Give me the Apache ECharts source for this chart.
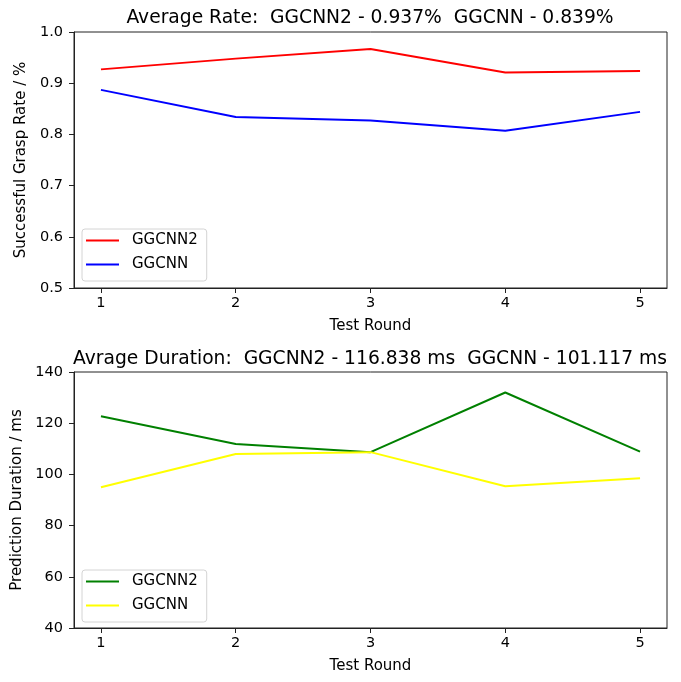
<!DOCTYPE html>
<html>
<head>
<meta charset="utf-8">
<script src="https://cdn.jsdelivr.net/npm/echarts@6/dist/echarts.min.js"></script>
<style>
  html, body { margin: 0; padding: 0; background: #fff; }
  #chart { width: 681px; height: 682px; }
</style>
</head>
<body>
<div id="chart"></div>
<script>
// test rounds on the x axis
const rounds = [1, 2, 3, 4, 5]

// successful grasp rate per round
const rateGGCNN2 = [0.927, 0.948, 0.967, 0.921, 0.924]
const rateGGCNN = [0.887, 0.834, 0.827, 0.807, 0.844]

// prediction duration (ms) per round
const durGGCNN2 = [122.7, 111.9, 108.7, 132.0, 108.9]
const durGGCNN = [95.0, 108.0, 108.7, 95.4, 98.5]

const rateTicks = [0.5, 0.6, 0.7, 0.8, 0.9, 1.0]
const durTicks = [40, 60, 80, 100, 120, 140]

const FONT = 'DejaVu Sans, sans-serif'

function pairs(ys) {
  return rounds.map(function (r, i) { return [r, ys[i]] })
}

// series names must be unique across both legends, show the plain name
const legendName = function (name) { return name.split('|')[0] }

function xAxisFor(gridIndex) {
  return {
    type: 'value', gridIndex: gridIndex,
    min: 0.8, max: 5.2,
    name: 'Test Round', nameLocation: 'middle', nameGap: 31,
    nameTextStyle: { color: '#000', fontSize: 15, fontFamily: FONT },
    axisLine: { show: true, lineStyle: { color: '#222', width: 1 } },
    axisTick: { show: true, length: 5, customValues: rounds, lineStyle: { color: '#222' } },
    axisLabel: { customValues: rounds, color: '#000', fontSize: 14.5, fontFamily: FONT, margin: 8 },
    splitLine: { show: false }
  }
}

function yAxisFor(gridIndex, ticks, name, fmt, gap) {
  return {
    type: 'value', gridIndex: gridIndex,
    min: ticks[0], max: ticks[ticks.length - 1],
    interval: ticks[1] - ticks[0],
    name: name, nameLocation: 'middle', nameGap: gap,
    nameTextStyle: { color: '#000', fontSize: 15, fontFamily: FONT },
    axisLine: { show: true, lineStyle: { color: '#222', width: 1 } },
    axisTick: { show: true, length: 5, lineStyle: { color: '#222' } },
    axisLabel: { color: '#000', fontSize: 14.5, fontFamily: FONT, margin: 11, formatter: fmt },
    splitLine: { show: false }
  }
}

function line(name, xi, data, color) {
  return {
    name: name, type: 'line',
    xAxisIndex: xi, yAxisIndex: xi,
    data: pairs(data),
    symbol: 'none',
    lineStyle: { color: color, width: 2 },
    itemStyle: { color: color }
  }
}

function legendAt(top, names) {
  return {
    data: names, orient: 'vertical',
    left: 82, top: top,
    icon: 'rect',
    itemWidth: 33, itemHeight: 2, itemGap: 9,
    padding: [4, 9, 9, 4],
    backgroundColor: '#fff', borderColor: '#d4d4d4', borderWidth: 1, borderRadius: 3,
    formatter: legendName,
    textStyle: { color: '#000', fontSize: 15, fontFamily: FONT, lineHeight: 15, padding: [0, 0, 0, 8] },
    selectedMode: false
  }
}

const chart = echarts.init(document.getElementById('chart'))
chart.setOption({
  animation: false,
  backgroundColor: '#fff',
  title: [
    {
      text: 'Average Rate:  GGCNN2 - 0.937%  GGCNN - 0.839%',
      left: 365, top: 4, textAlign: 'center',
      textStyle: { color: '#000', fontSize: 18.7, fontWeight: 'normal', fontFamily: FONT }
    },
    {
      text: 'Avrage Duration:  GGCNN2 - 116.838 ms  GGCNN - 101.117 ms',
      left: 365, top: 345, textAlign: 'center',
      textStyle: { color: '#000', fontSize: 18.7, fontWeight: 'normal', fontFamily: FONT }
    }
  ],
  grid: [
    { left: 74, right: 14, top: 32, height: 256, show: true, borderColor: '#222', borderWidth: 1, backgroundColor: '#fff' },
    { left: 74, right: 14, top: 372, height: 256, show: true, borderColor: '#222', borderWidth: 1, backgroundColor: '#fff' }
  ],
  xAxis: [xAxisFor(0), xAxisFor(1)],
  yAxis: [
    yAxisFor(0, rateTicks, 'Successful Grasp Rate / %', function (v) { return v.toFixed(1) }, 43),
    yAxisFor(1, durTicks, 'Prediction Duration / ms', function (v) { return String(v) }, 46)
  ],
  legend: [
    legendAt(229, ['GGCNN2|rate', 'GGCNN|rate']),
    legendAt(570, ['GGCNN2|dur', 'GGCNN|dur'])
  ],
  series: [
    line('GGCNN2|rate', 0, rateGGCNN2, '#ff0000'),
    line('GGCNN|rate', 0, rateGGCNN, '#0000ff'),
    line('GGCNN2|dur', 1, durGGCNN2, '#008000'),
    line('GGCNN|dur', 1, durGGCNN, '#ffff00')
  ]
})
</script>
</body>
</html>
